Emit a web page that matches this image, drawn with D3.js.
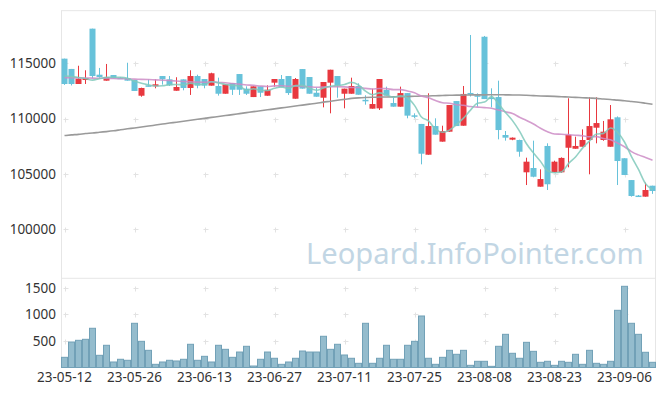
<!DOCTYPE html>
<html>
<head>
<meta charset="utf-8">
<script src="https://cdn.jsdelivr.net/npm/d3@7"></script>
<style>
  body { margin: 0; background: #fff; }
  text { font-family: "Noto Sans", sans-serif; }
</style>
</head>
<body>
<div id="chart"></div>
<script>
var dates = ["23-05-12","23-05-15","23-05-16","23-05-17","23-05-18","23-05-19","23-05-22","23-05-23","23-05-24","23-05-25",
  "23-05-26","23-05-30","23-05-31","23-06-01","23-06-02","23-06-05","23-06-07","23-06-08","23-06-09","23-06-12",
  "23-06-13","23-06-14","23-06-15","23-06-16","23-06-19","23-06-20","23-06-21","23-06-22","23-06-23","23-06-26",
  "23-06-27","23-06-28","23-06-29","23-06-30","23-07-03","23-07-04","23-07-05","23-07-06","23-07-07","23-07-10",
  "23-07-11","23-07-12","23-07-13","23-07-14","23-07-17","23-07-18","23-07-19","23-07-20","23-07-21","23-07-24",
  "23-07-25","23-07-26","23-07-27","23-07-28","23-07-31","23-08-01","23-08-02","23-08-03","23-08-04","23-08-07",
  "23-08-08","23-08-09","23-08-10","23-08-11","23-08-14","23-08-16","23-08-17","23-08-18","23-08-21","23-08-22",
  "23-08-23","23-08-24","23-08-25","23-08-28","23-08-29","23-08-30","23-08-31","23-09-01","23-09-04","23-09-05",
  "23-09-06","23-09-07","23-09-08","23-09-11","23-09-12"];

var opens = [115420,114490,113130,113490,118130,113970,113430,113940,113700,113670,
  113490,112070,113010,112920,113850,113550,112520,113550,112770,113850,
  113580,112980,112950,112250,113220,114030,112710,111950,112920,112070,
  113250,113580,113850,111800,114480,113760,112340,111890,113250,113850,
  112250,112250,112950,111700,110900,110930,112590,111410,111080,112310,
  110300,109520,106740,109330,107920,108820,111590,109360,112320,112110,
  117400,111900,111950,108520,108100,108070,105150,105540,103850,107530,
  105150,105150,107370,107280,107460,108070,109180,108070,107460,110120,
  106420,104450,103050,102950,103940];
var highs = [115420,114490,114780,114370,118130,114580,114940,113940,113750,115050,
  113490,112800,113550,113550,113850,113850,113740,113550,114370,113970,
  113580,114150,113700,113100,113220,114030,112920,112920,112920,113010,
  113580,113940,113850,113670,114480,113760,112800,113310,114420,113850,
  112710,113700,113190,112110,112700,113580,112890,111980,112890,112310,
  110480,109520,112290,110030,109360,111230,111590,112950,117560,112290,
  117470,112740,113430,108880,108300,108100,106470,108010,105420,107770,
  106200,106500,111840,108370,109030,111930,111930,109790,111230,110200,
  106420,104450,103100,104210,103940];
var lows = [113050,113000,113130,113130,113670,113700,113430,113640,113600,113430,
  112500,111980,112900,112740,113070,112950,112520,112560,112140,112740,
  112740,112980,112080,112250,112140,112140,112140,111950,111950,112070,
  112890,112830,112140,111800,112710,112250,111980,111020,110480,111890,
  110930,112250,112160,111260,110900,110780,112070,111080,111080,110030,
  110030,105870,106740,108550,107920,108820,109330,109360,112000,111080,
  111770,111020,108130,108010,108050,106560,104000,104700,103850,103550,
  105150,105100,105600,107280,107460,104970,107770,108000,107460,104000,
  104900,102950,102950,102950,103200];
var closes = [113130,113130,113610,113670,113850,113760,113760,113640,113620,113430,
  112500,112770,112920,113100,113550,113010,112860,112770,113850,112980,
  112980,114100,112250,113100,112610,112610,112250,112920,112340,112610,
  113580,112830,112310,113580,112710,112250,111980,113310,114420,112980,
  112710,112950,112160,111620,111320,113580,112070,111080,112310,110270,
  110250,106830,109330,108550,108880,111230,109330,112230,112160,111980,
  111770,111800,108970,108280,108280,107010,106110,104750,104540,104070,
  106110,106450,108520,107530,108070,109330,109600,108820,109940,106170,
  104910,103010,103000,103550,103460];
var volumes = [192,481,513,532,740,230,419,104,155,136,
  834,494,324,60,104,136,123,155,438,136,
  211,104,419,343,192,292,400,28,155,292,
  174,60,104,174,311,292,292,589,343,438,
  236,174,79,834,79,174,419,155,155,419,
  494,972,174,60,192,324,249,324,41,117,
  117,22,400,626,268,174,475,305,98,117,
  41,117,98,249,60,324,79,60,117,1079,
  1532,834,626,287,98];

// first values of the moving averages (window starts before the chart)
var ma5Lead = [113850,113800,113720,113620];
var ma20Lead = [113700,113690,113680,113670,113660,113650,113640,113630,113610,113590,
  113570,113550,113530,113500,113470,113440,113400,113360,113330];
// long moving average
var maLong = [108470,108530,108580,108650,108700,108770,108830,108900,108990,109080,
  109160,109250,109330,109420,109510,109600,109680,109770,109850,109940,
  110020,110110,110190,110280,110360,110450,110540,110630,110710,110800,
  110880,110970,111050,111140,111220,111310,111390,111490,111570,111660,
  111740,111830,111880,111910,111930,111950,111960,111970,111980,112000,
  112020,112040,112050,112070,112090,112110,112120,112130,112140,112150,
  112150,112160,112160,112150,112140,112130,112110,112080,112050,112030,
  112010,111980,111950,111920,111890,111860,111830,111770,111730,111670,
  111620,111550,111480,111390,111300];

var priceTicks = [100000,105000,110000,115000];
var volTicks = [500,1000,1500];
var labelEvery = 10;

var width = 665, height = 396,
    left = 61, right = 656,
    priceTop = 10.7, priceBottom = 277,
    volTop = 278.3, volBottom = 367.5;

var upColor = "#e8383f", downColor = "#67c2da";

function movingAvg(n, lead) {
  return closes.map(function(c, i) {
    if (i < n - 1) return lead[i];
    return d3.mean(closes.slice(i - n + 1, i + 1));
  });
}
var ma5 = movingAvg(5, ma5Lead);
var ma20 = movingAvg(20, ma20Lead);

var svg = d3.select("#chart").append("svg")
  .attr("width", width)
  .attr("height", height);

var x = d3.scaleBand().domain(dates).range([left, right]).padding(0);
var step = x.step();
var cx = function(i) { return x(dates[i]) + step / 2; };

var y = d3.scaleLinear().domain([95690, 119753]).range([priceBottom, priceTop]);
var yv = d3.scaleLinear().domain([0, 1683]).range([volBottom, volTop]);

// frame
var frame = svg.append("g").attr("stroke", "#e6e6e6").attr("fill", "none");
frame.append("line").attr("x1", left + 0.5).attr("x2", left + 0.5).attr("y1", priceTop).attr("y2", volBottom);
frame.append("line").attr("x1", right - 0.5).attr("x2", right - 0.5).attr("y1", priceTop).attr("y2", volBottom);
frame.append("line").attr("x1", left).attr("x2", right).attr("y1", priceTop).attr("y2", priceTop);
frame.append("line").attr("x1", left).attr("x2", right).attr("y1", volTop).attr("y2", volTop);

// grid crosses
var tickIdx = d3.range(0, dates.length, labelEvery);
var crosses = [];
tickIdx.forEach(function(i) {
  priceTicks.forEach(function(t) { crosses.push([cx(i), y(t)]); });
  volTicks.forEach(function(t) { crosses.push([cx(i), yv(t)]); });
});
svg.append("g").selectAll("path")
  .data(crosses)
  .enter().append("path")
  .attr("d", function(d) {
    var px = Math.round(d[0]) + 0.5, py = Math.round(d[1]) + 0.5;
    return "M" + (px - 2) + "," + py + "H" + (px + 3) + "M" + px + "," + (py - 2) + "V" + (py + 3);
  })
  .attr("stroke", "#e2e2e2")
  .attr("stroke-width", 1);

// watermark, sized to fit its slot
var mark = svg.append("text")
  .attr("x", 306)
  .attr("y", 264)
  .style("font-size", "34px")
  .style("fill", "#c2d6e4")
  .text("Leopard.InfoPointer.com");
var markSize = 34 * 338 / mark.node().getComputedTextLength();
mark.style("font-size", markSize + "px");

// volume bars
svg.append("g").selectAll("rect")
  .data(volumes)
  .enter().append("rect")
  .attr("x", function(d, i) { return x(dates[i]) + 0.5; })
  .attr("y", function(d) { return yv(d); })
  .attr("width", step - 1)
  .attr("height", function(d) { return volBottom - yv(d); })
  .attr("fill", "#94bccd")
  .attr("stroke", "#72a1b7")
  .attr("stroke-width", 1);

// candles
var candles = svg.append("g").selectAll("g")
  .data(dates)
  .enter().append("g");

candles.append("line")
  .attr("x1", function(d, i) { return Math.floor(cx(i)) + 0.5; })
  .attr("x2", function(d, i) { return Math.floor(cx(i)) + 0.5; })
  .attr("y1", function(d, i) { return y(highs[i]); })
  .attr("y2", function(d, i) { return y(lows[i]); })
  .attr("stroke", function(d, i) { return closes[i] >= opens[i] ? upColor : downColor; });

candles.append("rect")
  .attr("x", function(d, i) { return x(d) + 0.5; })
  .attr("y", function(d, i) { return y(Math.max(opens[i], closes[i])); })
  .attr("width", step - 1)
  .attr("height", function(d, i) { return Math.max(1.5, Math.abs(y(opens[i]) - y(closes[i]))); })
  .attr("fill", function(d, i) { return closes[i] >= opens[i] ? upColor : downColor; });

// moving averages
var line = d3.line()
  .x(function(d, i) { return cx(i); })
  .y(function(d) { return y(d); })
  .curve(d3.curveMonotoneX);

svg.append("path").datum(maLong).attr("d", line)
  .attr("fill", "none").attr("stroke", "#9a9a9a").attr("stroke-width", 1.6);
svg.append("path").datum(ma20).attr("d", line)
  .attr("fill", "none").attr("stroke", "#cc8cc6").attr("stroke-width", 1.6).attr("opacity", 0.85);
svg.append("path").datum(ma5).attr("d", line)
  .attr("fill", "none").attr("stroke", "#80c9bb").attr("stroke-width", 1.6).attr("opacity", 0.85);

// axes
var yAxis = svg.append("g")
  .attr("transform", "translate(" + left + ",0)")
  .call(d3.axisLeft(y).tickValues(priceTicks).tickSize(0).tickPadding(5).tickFormat(d3.format("d")));
var vAxis = svg.append("g")
  .attr("transform", "translate(" + left + ",0)")
  .call(d3.axisLeft(yv).tickValues(volTicks).tickSize(0).tickPadding(5).tickFormat(d3.format("d")));
var xAxis = svg.append("g")
  .attr("transform", "translate(0," + volBottom + ")")
  .call(d3.axisBottom(x).tickValues(tickIdx.map(function(i) { return dates[i]; })).tickSize(0).tickPadding(5));

[yAxis, vAxis, xAxis].forEach(function(a) {
  a.select(".domain").remove();
  a.selectAll("text")
    .style("font-family", "'Noto Sans', sans-serif")
    .style("font-size", "13.5px")
    .attr("fill", "#333");
});
</script>
</body>
</html>
